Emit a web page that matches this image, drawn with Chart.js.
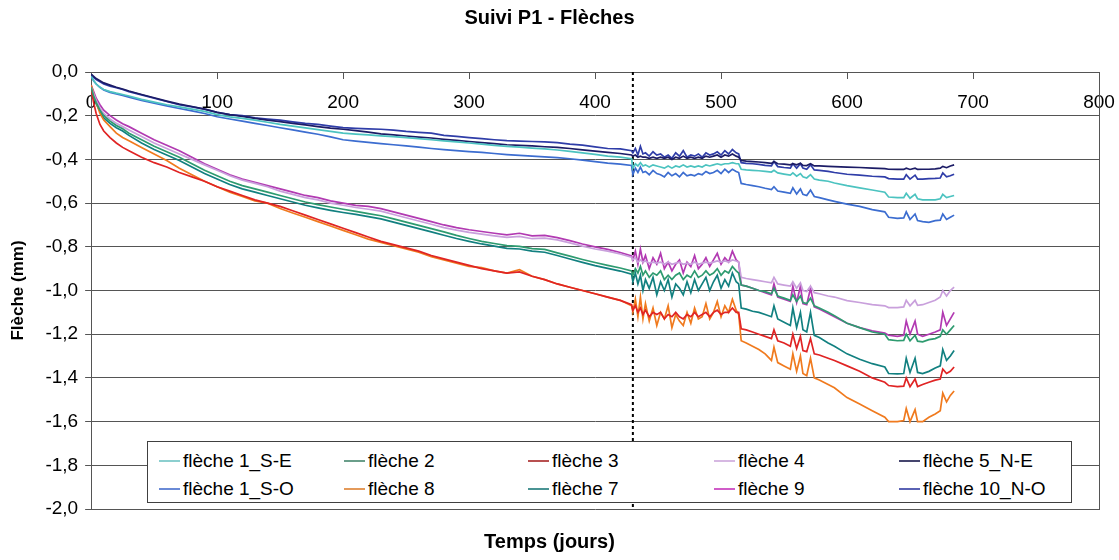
<!DOCTYPE html>
<html>
<head>
<meta charset="utf-8">
<script src="https://cdn.jsdelivr.net/npm/chart.js@4.4.1/dist/chart.umd.min.js"></script>
<style>
    html, body { margin: 0; padding: 0; background: #fff; }
    #wrap { position: relative; width: 1119px; height: 560px; }
    #legend {
        position: absolute; left: 147px; top: 441px; width: 925px; height: 62px;
        background: #fff; border: 1px solid #404040; box-sizing: border-box;
        font-family: 'Liberation Sans', Arial, sans-serif; font-size: 19px; color: #000;
    }
    .item { position: absolute; display: flex; align-items: center; white-space: nowrap; height: 22px; }
    .swatch { width: 21px; height: 2px; margin-right: 3px; }
</style>
</head>
<body>
<div id="wrap">
    <canvas id="flecheChart" width="1119" height="560"></canvas>
    <div id="legend"></div>
</div>
<script>
// Days of measurement (shared by every series)
const days = [
    0, 2, 4, 7, 10, 15, 20, 25, 30, 40, 50, 60, 70, 80, 90, 100, 110, 120, 130, 140, 150, 160, 170, 180, 190,
    200, 210, 220, 230, 240, 250, 260, 270, 280, 290, 300, 310, 320, 330, 340, 350, 360, 370, 380, 390, 400, 410, 420, 429,
    430, 432, 434, 436, 438, 440, 443, 446, 449, 452, 455, 458, 461, 464, 467, 470, 473, 476, 479, 482, 485, 488, 491, 494, 497, 500, 503, 506, 509, 512, 514,
    516, 520, 525, 530, 535, 540, 542, 545, 550, 555, 557, 560, 563, 565, 568, 571, 574, 578, 585, 590, 600, 610, 620, 630, 633, 640, 645, 647, 650, 654, 656, 660, 665, 670, 674, 676, 679, 682, 685
];

const eventDay = 430;
const xTicks = { min: 0, max: 800, step: 100 };
const yTicks = { min: -2, max: 0, step: 0.2 };

// Flèches (mm)
const fleche1SE = [
    -0.02, -0.04, -0.055, -0.07, -0.08, -0.09, -0.097, -0.103, -0.11, -0.125, -0.138, -0.15, -0.16, -0.17, -0.18, -0.195, -0.205, -0.212, -0.22, -0.23, -0.24, -0.248, -0.256, -0.264, -0.272,
    -0.28, -0.284, -0.288, -0.292, -0.296, -0.3, -0.305, -0.31, -0.315, -0.32, -0.325, -0.33, -0.336, -0.34, -0.344, -0.348, -0.352, -0.357, -0.363, -0.37, -0.377, -0.385, -0.39, -0.397,
    -0.44, -0.42, -0.43, -0.415, -0.43, -0.425, -0.435, -0.425, -0.43, -0.435, -0.44, -0.43, -0.44, -0.43, -0.435, -0.425, -0.435, -0.43, -0.435, -0.43, -0.435, -0.425, -0.43, -0.425, -0.42, -0.425, -0.42, -0.42, -0.415, -0.42, -0.42,
    -0.445, -0.448, -0.45, -0.452, -0.455, -0.458, -0.45, -0.462, -0.467, -0.472, -0.462, -0.477, -0.465, -0.48, -0.485, -0.47, -0.49, -0.495, -0.5, -0.508, -0.52, -0.53, -0.54, -0.55, -0.572, -0.575, -0.575, -0.555, -0.578, -0.56, -0.58, -0.585, -0.585, -0.585, -0.58, -0.56, -0.575, -0.57, -0.565
];
const fleche2 = [
    -0.07, -0.11, -0.14, -0.175, -0.2, -0.225, -0.245, -0.26, -0.28, -0.31, -0.34, -0.365, -0.39, -0.42, -0.45, -0.475, -0.5, -0.52, -0.535, -0.55, -0.565, -0.58, -0.595, -0.607, -0.618,
    -0.628, -0.638, -0.648, -0.658, -0.672, -0.687, -0.702, -0.717, -0.732, -0.748, -0.762, -0.775, -0.785, -0.795, -0.798, -0.808, -0.812, -0.828, -0.843, -0.858, -0.872, -0.885, -0.897, -0.91,
    -0.93, -0.9, -0.92, -0.89, -0.93, -0.91, -0.94, -0.92, -0.93, -0.91, -0.95, -0.93, -0.95, -0.93, -0.92, -0.95, -0.93, -0.94, -0.91, -0.94, -0.93, -0.91, -0.93, -0.92, -0.9, -0.93, -0.91, -0.92, -0.89, -0.91, -0.92,
    -0.975, -0.98, -0.99, -1.0, -1.005, -1.015, -0.99, -1.025, -1.035, -1.045, -1.02, -1.05, -1.025, -1.055, -1.06, -1.035, -1.07, -1.08, -1.1, -1.115, -1.15, -1.17, -1.19, -1.2, -1.225, -1.23, -1.228, -1.2, -1.23, -1.205, -1.232, -1.235, -1.225, -1.22, -1.21, -1.18, -1.2, -1.18, -1.16
];
const fleche3 = [
    -0.08, -0.14, -0.19, -0.24, -0.27, -0.3, -0.325, -0.345, -0.36, -0.39, -0.415, -0.435, -0.46, -0.48, -0.5, -0.525, -0.545, -0.565, -0.585, -0.6, -0.615, -0.635, -0.655, -0.675, -0.695,
    -0.715, -0.735, -0.755, -0.775, -0.79, -0.805, -0.82, -0.84, -0.855, -0.87, -0.885, -0.9, -0.91, -0.92, -0.915, -0.935, -0.95, -0.97, -0.985, -1.0, -1.015, -1.03, -1.045, -1.065,
    -1.09, -1.07, -1.1, -1.08, -1.11, -1.09, -1.12, -1.1, -1.11, -1.1, -1.13, -1.11, -1.12, -1.1, -1.12, -1.13, -1.11, -1.12, -1.1, -1.12, -1.11, -1.1, -1.12, -1.1, -1.09, -1.11, -1.1, -1.1, -1.08, -1.1, -1.1,
    -1.175, -1.18, -1.19, -1.2, -1.21, -1.22, -1.18, -1.23, -1.24, -1.255, -1.2, -1.265, -1.21, -1.275, -1.28, -1.22, -1.29, -1.295, -1.31, -1.32, -1.345, -1.37, -1.4, -1.42, -1.435, -1.44, -1.438, -1.4, -1.44, -1.405, -1.44, -1.43, -1.42, -1.41, -1.405, -1.36, -1.38, -1.37, -1.35
];
const fleche4 = [
    -0.07, -0.1, -0.13, -0.165, -0.19, -0.215, -0.235, -0.25, -0.265, -0.295, -0.325, -0.35, -0.375, -0.4, -0.425, -0.45, -0.475, -0.495, -0.51, -0.525, -0.545, -0.56, -0.575, -0.585, -0.6,
    -0.61, -0.62, -0.628, -0.637, -0.652, -0.667, -0.682, -0.697, -0.712, -0.724, -0.734, -0.742, -0.75, -0.757, -0.752, -0.763, -0.76, -0.768, -0.782, -0.797, -0.81, -0.82, -0.833, -0.848,
    -0.86, -0.85, -0.87, -0.86, -0.87, -0.865, -0.875, -0.87, -0.875, -0.87, -0.88, -0.87, -0.88, -0.875, -0.87, -0.88, -0.875, -0.88, -0.87, -0.88, -0.875, -0.87, -0.875, -0.87, -0.865, -0.87, -0.865, -0.87, -0.86, -0.865, -0.87,
    -0.94, -0.945, -0.95, -0.955, -0.96, -0.965, -0.94, -0.97, -0.975, -0.98, -0.96, -0.99, -0.965, -1.0, -1.005, -0.98, -1.01, -1.015, -1.025, -1.03, -1.046, -1.055, -1.065, -1.07, -1.078, -1.078, -1.075, -1.045, -1.07, -1.045, -1.068, -1.065, -1.055, -1.045, -1.03, -1.0, -1.025, -1.0, -0.985
];
const fleche5NE = [
    -0.01, -0.02, -0.03, -0.04, -0.05, -0.06, -0.07, -0.078, -0.087, -0.103, -0.118, -0.133, -0.147, -0.158, -0.17, -0.185, -0.195, -0.203, -0.212, -0.22, -0.227, -0.235, -0.242, -0.25, -0.257,
    -0.262, -0.268, -0.275, -0.283, -0.288, -0.293, -0.298, -0.302, -0.308, -0.313, -0.318, -0.323, -0.328, -0.333, -0.336, -0.338, -0.342, -0.345, -0.35, -0.356, -0.362, -0.368, -0.373, -0.38,
    -0.385, -0.38, -0.39, -0.385, -0.39, -0.39, -0.395, -0.39, -0.395, -0.39, -0.395, -0.39, -0.4, -0.39, -0.395, -0.385, -0.395, -0.39, -0.395, -0.39, -0.395, -0.385, -0.39, -0.385, -0.38, -0.39, -0.38, -0.385, -0.375, -0.385, -0.39,
    -0.405, -0.408, -0.41, -0.412, -0.415, -0.418, -0.41, -0.42, -0.422, -0.425, -0.42, -0.425, -0.418, -0.427, -0.428, -0.42, -0.43, -0.43, -0.432, -0.433, -0.435, -0.437, -0.44, -0.442, -0.445, -0.446, -0.446, -0.44, -0.446, -0.44, -0.446, -0.445, -0.445, -0.443, -0.44, -0.432, -0.438, -0.43, -0.425
];
const fleche1SO = [
    -0.02, -0.04, -0.055, -0.07, -0.082, -0.093, -0.1, -0.107, -0.115, -0.13, -0.143, -0.155, -0.167, -0.178, -0.19, -0.205, -0.215, -0.225, -0.235, -0.245, -0.255, -0.265, -0.275, -0.285, -0.297,
    -0.31, -0.316, -0.322, -0.328, -0.333, -0.338, -0.344, -0.35, -0.355, -0.36, -0.364, -0.368, -0.373, -0.378, -0.382, -0.385, -0.388, -0.392, -0.397, -0.403, -0.41, -0.417, -0.422, -0.428,
    -0.47, -0.44, -0.46, -0.435, -0.46, -0.455, -0.47, -0.45, -0.465, -0.47, -0.48, -0.46, -0.475, -0.465, -0.48, -0.46, -0.475, -0.47, -0.475, -0.465, -0.47, -0.455, -0.465, -0.46, -0.45, -0.465, -0.445, -0.46, -0.445, -0.455, -0.46,
    -0.51, -0.515, -0.52, -0.525, -0.532, -0.538, -0.525, -0.545, -0.55, -0.555, -0.53, -0.558, -0.535, -0.56, -0.565, -0.54, -0.57, -0.575, -0.585, -0.592, -0.605, -0.615, -0.63, -0.64, -0.665, -0.67, -0.668, -0.64, -0.675, -0.65, -0.68, -0.685, -0.688, -0.68, -0.678, -0.65, -0.675, -0.665, -0.655
];
const fleche8 = [
    -0.06, -0.1, -0.14, -0.19, -0.22, -0.25, -0.28, -0.3, -0.315, -0.345, -0.375, -0.405, -0.44, -0.47, -0.5, -0.525, -0.55, -0.57, -0.59, -0.6, -0.625, -0.645, -0.665, -0.685, -0.705,
    -0.725, -0.745, -0.765, -0.78, -0.795, -0.81, -0.825, -0.845, -0.86, -0.875, -0.89, -0.895, -0.91, -0.92, -0.905, -0.935, -0.95, -0.97, -0.985, -1.0, -1.015, -1.03, -1.045, -1.07,
    -1.1, -1.04, -1.12, -1.03, -1.13, -1.06, -1.14, -1.08, -1.16, -1.1, -1.13, -1.07, -1.17, -1.11, -1.14, -1.16, -1.1, -1.15, -1.08, -1.13, -1.12, -1.06, -1.13, -1.1, -1.05, -1.12, -1.07, -1.1, -1.04, -1.09, -1.11,
    -1.23, -1.24, -1.255, -1.27, -1.29, -1.32, -1.26, -1.33, -1.345, -1.36, -1.29, -1.37, -1.3, -1.38, -1.39, -1.31, -1.4, -1.41, -1.43, -1.445, -1.49, -1.52, -1.55, -1.58, -1.6, -1.6, -1.595, -1.54, -1.6, -1.545, -1.6, -1.6, -1.58, -1.565, -1.55, -1.47, -1.51, -1.48, -1.46
];
const fleche7 = [
    -0.07, -0.11, -0.145, -0.18, -0.21, -0.235, -0.255, -0.27, -0.29, -0.325, -0.355, -0.38, -0.405, -0.435, -0.465, -0.49, -0.515, -0.535, -0.55, -0.565, -0.58, -0.595, -0.61, -0.622, -0.633,
    -0.643, -0.652, -0.662, -0.672, -0.687, -0.702, -0.717, -0.732, -0.747, -0.762, -0.775, -0.787, -0.797, -0.807, -0.81, -0.82, -0.825, -0.84, -0.856, -0.871, -0.886, -0.899, -0.911, -0.925,
    -0.96, -0.92, -0.97, -0.93, -1.0, -0.95, -0.99, -0.94, -1.02, -0.96, -1.0, -0.95, -1.03, -0.97, -0.99, -1.02, -0.96, -1.01, -0.95, -1.0, -0.97, -0.94, -1.0, -0.96, -0.93, -0.99, -0.95, -0.98, -0.92, -0.96, -0.97,
    -1.08, -1.085, -1.095, -1.1, -1.11, -1.12, -1.07, -1.13, -1.145, -1.16, -1.08, -1.17, -1.1, -1.18, -1.19, -1.1, -1.205, -1.215, -1.24, -1.255, -1.29, -1.315, -1.335, -1.35, -1.38, -1.382, -1.38, -1.31, -1.375, -1.31, -1.375, -1.38, -1.37, -1.355, -1.345, -1.27, -1.32, -1.3, -1.275
];
const fleche9 = [
    -0.06, -0.09, -0.12, -0.15, -0.175, -0.2, -0.22, -0.237, -0.25, -0.28, -0.31, -0.335, -0.36, -0.39, -0.42, -0.445, -0.47, -0.49, -0.505, -0.52, -0.535, -0.55, -0.565, -0.575, -0.59,
    -0.6, -0.61, -0.615, -0.625, -0.64, -0.655, -0.67, -0.685, -0.7, -0.712, -0.722, -0.73, -0.738, -0.745, -0.738, -0.75, -0.748, -0.758, -0.772, -0.787, -0.8, -0.812, -0.826, -0.842,
    -0.86, -0.82, -0.88, -0.81, -0.87, -0.84, -0.9, -0.85, -0.88, -0.83, -0.9, -0.87, -0.91, -0.88, -0.86, -0.92, -0.87, -0.89, -0.84, -0.9, -0.88, -0.85, -0.89, -0.86, -0.83, -0.88, -0.85, -0.87, -0.82, -0.86, -0.87,
    -0.975, -0.98, -0.99, -1.0, -1.01, -1.02, -0.97, -1.03, -1.04, -1.05, -0.98, -1.055, -0.98, -1.06, -1.065, -0.99, -1.075, -1.085, -1.105, -1.12, -1.15, -1.17, -1.185, -1.195, -1.205, -1.21, -1.205, -1.14, -1.2, -1.14, -1.2, -1.21, -1.2, -1.19, -1.18, -1.1, -1.16, -1.13, -1.1
];
const fleche10NO = [
    -0.01, -0.025, -0.035, -0.045, -0.055, -0.065, -0.072, -0.08, -0.09, -0.105, -0.12, -0.135, -0.15, -0.16, -0.17, -0.185, -0.195, -0.2, -0.21, -0.215, -0.22, -0.228, -0.235, -0.24, -0.248,
    -0.255, -0.258, -0.26, -0.262, -0.266, -0.272, -0.276, -0.28, -0.29, -0.295, -0.3, -0.305, -0.31, -0.314, -0.316, -0.318, -0.32, -0.323, -0.33, -0.335, -0.343, -0.35, -0.352, -0.36,
    -0.37, -0.35, -0.38, -0.34, -0.375, -0.37, -0.385, -0.365, -0.38, -0.375, -0.39, -0.38, -0.395, -0.37, -0.385, -0.36, -0.39, -0.38, -0.385, -0.375, -0.39, -0.37, -0.38, -0.375, -0.365, -0.38, -0.36, -0.375, -0.355, -0.37, -0.375,
    -0.415, -0.418, -0.42, -0.423, -0.427, -0.43, -0.41, -0.433, -0.437, -0.44, -0.42, -0.44, -0.42, -0.44, -0.445, -0.425, -0.448, -0.45, -0.455, -0.46, -0.468, -0.472, -0.477, -0.48, -0.488, -0.49, -0.49, -0.47, -0.49, -0.472, -0.49, -0.49, -0.488, -0.487, -0.485, -0.462, -0.48, -0.475, -0.468
];

// Series in legend order (row 1 then row 2)
const seriesList = [
    { label: 'flèche 1_S-E', data: fleche1SE, color: '#4cc3c0', legendColor: '#8ccfcf' },
    { label: 'flèche 2', data: fleche2, color: '#2e9b70', legendColor: '#6a9e8a' },
    { label: 'flèche 3', data: fleche3, color: '#e02424', legendColor: '#b85050' },
    { label: 'flèche 4', data: fleche4, color: '#c9a0dc', legendColor: '#d6b8e2' },
    { label: 'flèche 5_N-E', data: fleche5NE, color: '#1c1c66', legendColor: '#45456e' },
    { label: 'flèche 1_S-O', data: fleche1SO, color: '#3c6dd0', legendColor: '#6a8ad6' },
    { label: 'flèche 8', data: fleche8, color: '#f07a1e', legendColor: '#e49a5a' },
    { label: 'flèche 7', data: fleche7, color: '#128080', legendColor: '#4a9494' },
    { label: 'flèche 9', data: fleche9, color: '#b23ab2', legendColor: '#d05cc8' },
    { label: 'flèche 10_N-O', data: fleche10NO, color: '#2f3da8', legendColor: '#5a62b4' }
];

const FONT = "'Liberation Sans', Arial, sans-serif";

const datasets = seriesList.map(s => ({
    label: s.label,
    data: days.map((d, i) => ({ x: d, y: s.data[i] })),
    borderColor: s.color,
    borderWidth: 1.7,
    pointRadius: 0,
    tension: 0,
    fill: false
}));

// vertical dotted marker
datasets.push({
    label: 'marker',
    data: [{ x: eventDay, y: yTicks.max }, { x: eventDay, y: yTicks.min }],
    borderColor: '#000',
    borderWidth: 2,
    borderDash: [3, 3],
    pointRadius: 0,
    fill: false
});

const chart = new Chart(document.getElementById('flecheChart'), {
    type: 'line',
    data: { datasets: datasets },
    options: {
        responsive: false,
        animation: false,
        layout: { padding: { left: 0, right: 20, top: 0, bottom: 0 } },
        plugins: {
            legend: { display: false },
            tooltip: { enabled: false },
            title: {
                display: true,
                text: 'Suivi P1 - Flèches',
                color: '#000',
                font: { family: FONT, size: 20, weight: 'bold' },
                padding: { top: 6, bottom: 42 }
            },
            subtitle: {
                display: true,
                position: 'bottom',
                text: 'Temps (jours)',
                color: '#000',
                font: { family: FONT, size: 20, weight: 'bold' },
                padding: { top: 21, bottom: 6 }
            }
        },
        scales: {
            x: {
                type: 'linear',
                position: { y: 0 },
                min: xTicks.min,
                max: xTicks.max,
                ticks: {
                    stepSize: xTicks.step,
                    color: '#000',
                    font: { family: FONT, size: 19 },
                    padding: 2,
                    maxRotation: 0,
                    autoSkip: false
                },
                // long tick space for the labels, but only the first 6px are drawn
                grid: { drawOnChartArea: false, color: '#555', tickLength: 17, tickBorderDash: [6, 40] },
                border: { color: '#555' }
            },
            y: {
                min: yTicks.min,
                max: yTicks.max,
                ticks: {
                    stepSize: yTicks.step,
                    color: '#000',
                    font: { family: FONT, size: 19 },
                    padding: 7,
                    callback: function(value) {
                        return value.toFixed(1).replace('.', ',');
                    }
                },
                grid: { color: '#555', tickLength: 6 },
                border: { color: '#555' },
                title: {
                    display: true,
                    text: 'Flèche (mm)',
                    color: '#000',
                    font: { family: FONT, size: 17, weight: 'bold' },
                    padding: { top: 8, bottom: 10 }
                }
            },
            y2: {
                position: 'right',
                min: yTicks.min,
                max: yTicks.max,
                ticks: { display: false },
                grid: { drawOnChartArea: false, drawTicks: false },
                border: { color: '#555' }
            }
        }
    }
});

// HTML legend, 5 columns x 2 rows
const legendCols = [11, 196, 380, 566, 751];
const legendRows = [8, 36];
const legendEl = document.getElementById('legend');
seriesList.forEach((s, i) => {
    const item = document.createElement('div');
    item.className = 'item';
    item.style.left = legendCols[i % 5] + 'px';
    item.style.top = legendRows[Math.floor(i / 5)] + 'px';
    const sw = document.createElement('span');
    sw.className = 'swatch';
    sw.style.background = s.legendColor;
    const txt = document.createElement('span');
    txt.textContent = s.label;
    item.appendChild(sw);
    item.appendChild(txt);
    legendEl.appendChild(item);
});
</script>
</body>
</html>
